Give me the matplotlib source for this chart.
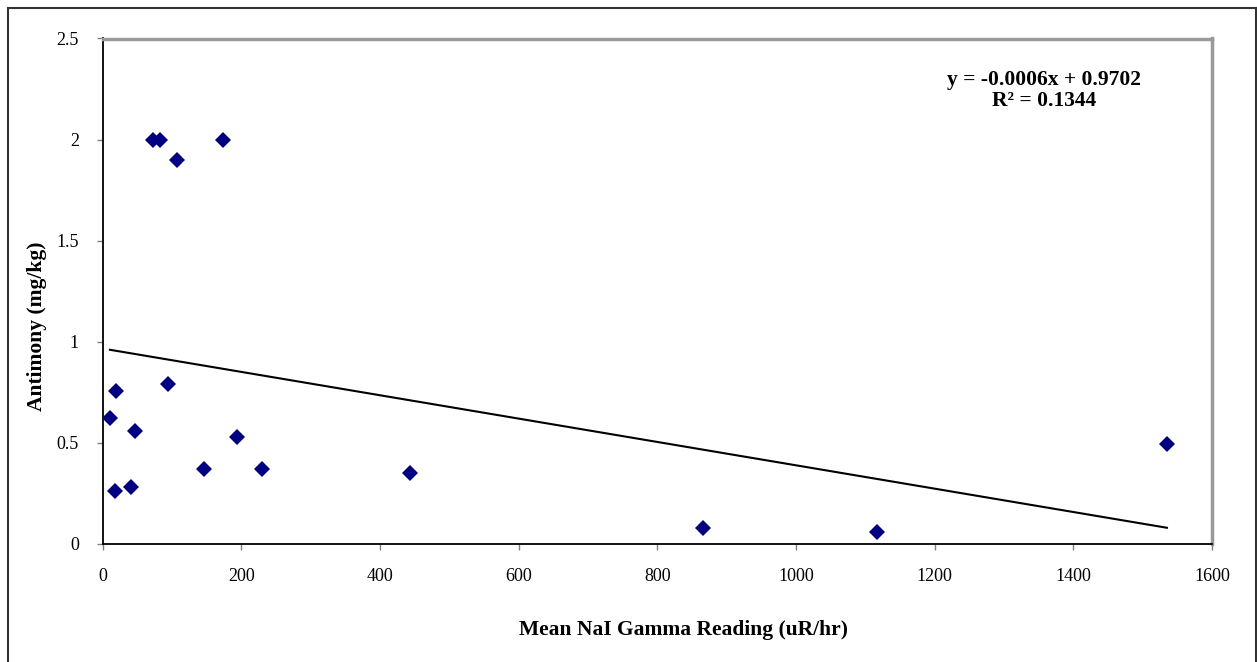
import numpy as np
import matplotlib
matplotlib.use("Agg")
import matplotlib.pyplot as plt
from matplotlib.lines import Line2D

### data
gamma = [10.8, 19.5, 18, 40.7, 46.9, 73.3, 82.9, 107, 94, 146.8,
         174.2, 194, 230, 443.5, 866, 1117, 1535]
antimony = [0.622, 0.759, 0.262, 0.281, 0.561, 2.0, 2.0, 1.9, 0.79, 0.371,
            2.0, 0.531, 0.371, 0.351, 0.079, 0.059, 0.495]
x_ticks = [0, 200, 400, 600, 800, 1000, 1200, 1400, 1600]
y_ticks = [0, 0.5, 1, 1.5, 2, 2.5]
y_tick_labels = ["0", "0.5", "1", "1.5", "2", "2.5"]
eq_text = "y = -0.0006x + 0.9702\nR² = 0.1344"
###---------------------------------------------------------------------

plt.rcParams['font.family'] = ['Liberation Serif', 'DejaVu Serif']

W, H = 1257, 662
fig = plt.figure(figsize=(W / 100, H / 100), dpi=100)
ax = fig.add_axes([102.5 / W, 118 / H, (1212 - 102.5) / W, (544 - 38.5) / H])

x = np.array(gamma)
y = np.array(antimony)

# linear trendline over the data range (Excel style)
slope, intercept = np.polyfit(x, y, 1)
xl = np.array([x.min(), x.max()])
ax.plot(xl, slope * xl + intercept, color='k', lw=1.5, zorder=2)

ax.plot(x, y, linestyle='none', marker='D', ms=8.2, color='#000080',
        markeredgewidth=0, zorder=3)

ax.set_xlim(0, 1600)
ax.set_ylim(0, 2.5)
ax.set_xticks(x_ticks)
ax.set_yticks(y_ticks)
ax.set_yticklabels(y_tick_labels)
ax.tick_params(direction='out', length=4, width=1, color='#808080',
               labelsize=13, pad=13)

for side in ['top', 'right']:
    ax.spines[side].set_color('#999999')
    ax.spines[side].set_linewidth(2.5)
for side in ['left', 'bottom']:
    ax.spines[side].set_color('k')
    ax.spines[side].set_linewidth(1.3)

### axis titles, placed where the reference has them
ax.set_xlabel("Mean NaI Gamma Reading (uR/hr)", fontsize=15.5, fontweight='bold',
              va='center', ha='center')
ax.xaxis.set_label_coords((683.5 - 102.5) / 1109.5, (544 - 630) / 505.5)
ax.set_ylabel("Antimony (mg/kg)", fontsize=15.5, fontweight='bold',
              va='center', ha='center')
ax.yaxis.set_label_coords((37.5 - 102.5) / 1109.5, (544 - 326) / 505.5)

ax.text(1044 / W, 1 - 90.5 / H, eq_text, transform=fig.transFigure,
        ha='center', va='center', fontsize=15.5, fontweight='bold',
        linespacing=1.05)

# outer chart frame
frame_kw = dict(transform=fig.transFigure, color='#333333', lw=1.5)
fig.add_artist(Line2D([8 / W, 8 / W], [0, 1 - 8 / H], **frame_kw))
fig.add_artist(Line2D([8 / W, 1255.5 / W], [1 - 8 / H, 1 - 8 / H], **frame_kw))
fig.add_artist(Line2D([1255.5 / W, 1255.5 / W], [0, 1 - 8 / H], **frame_kw))

plt.savefig("out.png", dpi=100)
